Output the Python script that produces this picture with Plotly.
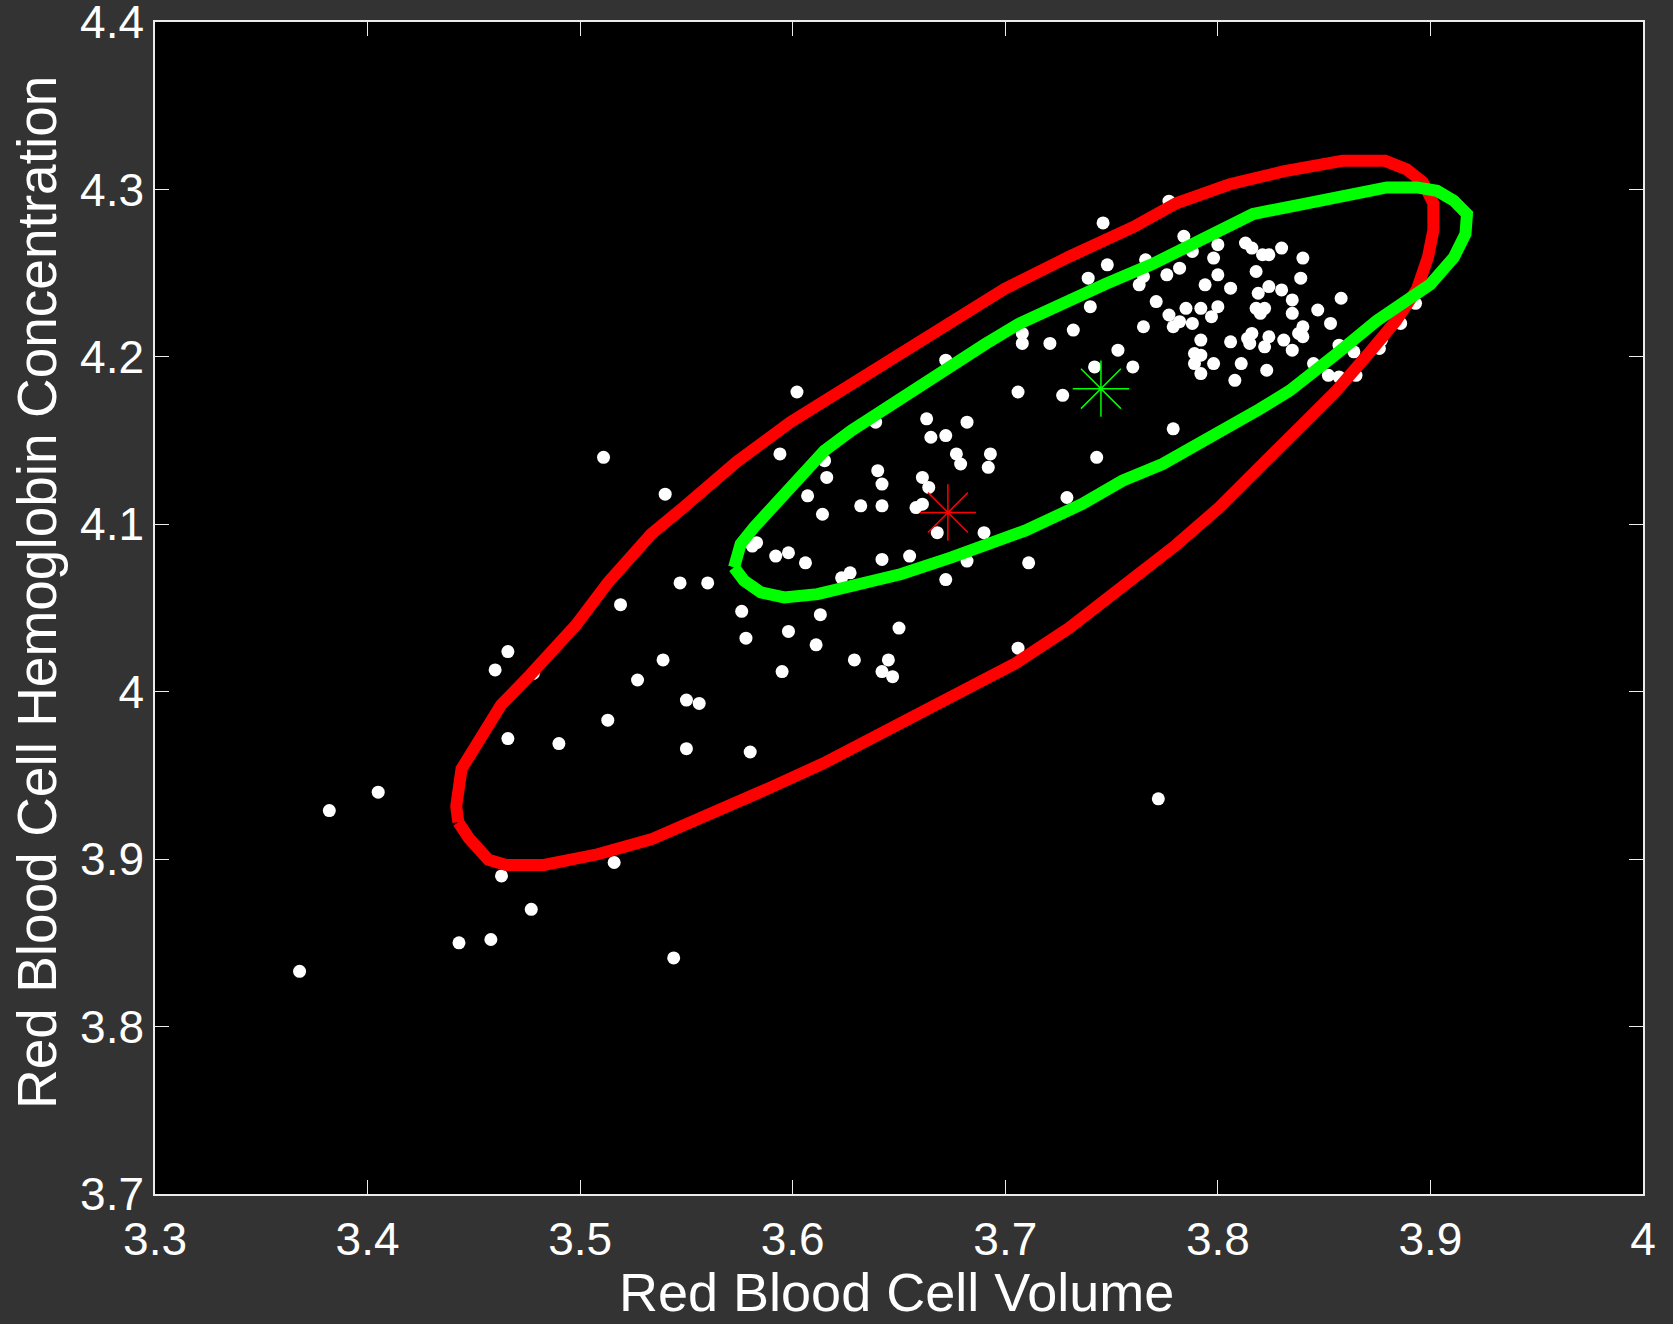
import plotly.graph_objects as go

# ---------------- data ----------------
pts_x = [3.777, 3.746, 3.784, 3.788, 3.800, 3.798, 3.766, 3.748, 3.782, 3.776,
         3.763, 3.765, 3.794, 3.800, 3.806, 3.813, 3.816, 3.821, 3.824, 3.830,
         3.840, 3.818, 3.839, 3.824, 3.830, 3.819, 3.835, 3.835, 3.818, 3.822,
         3.820, 3.847, 3.858, 3.853, 3.840, 3.838, 3.840, 3.831, 3.835, 3.816,
         3.814, 3.824, 3.822, 3.806, 3.815, 3.811, 3.823, 3.808, 3.798, 3.792,
         3.789, 3.792, 3.789, 3.792, 3.771, 3.777, 3.785, 3.792, 3.800, 3.797,
         3.782, 3.779, 3.788, 3.765, 3.753, 3.760, 3.857, 3.845, 3.852, 3.865,
         3.877, 3.876, 3.886, 3.893, 3.864, 3.857,
         3.739, 3.740, 3.732, 3.721, 3.708, 3.708, 3.672, 3.742, 3.706, 3.727,
         3.663, 3.682, 3.665, 3.672, 3.639,
         3.602, 3.594, 3.677, 3.679, 3.693, 3.692, 3.615, 3.616, 3.607, 3.614,
         3.640, 3.642, 3.632, 3.642, 3.661, 3.664, 3.658, 3.661, 3.668, 3.690,
         3.583, 3.581, 3.592, 3.598, 3.606, 3.642, 3.655, 3.682, 3.672, 3.627,
         3.623, 3.560, 3.576, 3.613, 3.578, 3.598, 3.650, 3.611, 3.629, 3.645,
         3.595, 3.642, 3.647,
         3.511, 3.540, 3.547, 3.519, 3.466, 3.460, 3.478, 3.539, 3.527, 3.550,
         3.556, 3.513, 3.466, 3.490, 3.550, 3.580,
         3.405, 3.382, 3.368, 3.463, 3.516, 3.477, 3.443, 3.458, 3.544,
         3.779, 3.743, 3.729, 3.711, 3.706, 3.772]
pts_y = [4.293, 4.280, 4.272, 4.263, 4.267, 4.259, 4.258, 4.255, 4.253, 4.249,
         4.243, 4.248, 4.243, 4.249, 4.241, 4.268, 4.265, 4.261, 4.261, 4.265,
         4.259, 4.251, 4.247, 4.242, 4.240, 4.238, 4.234, 4.226, 4.229, 4.229,
         4.226, 4.228, 4.235, 4.220, 4.218, 4.214, 4.212, 4.210, 4.204, 4.214,
         4.211, 4.212, 4.206, 4.209, 4.208, 4.196, 4.192, 4.186, 4.196, 4.210,
         4.202, 4.201, 4.196, 4.190, 4.233, 4.225, 4.229, 4.229, 4.230, 4.224,
         4.221, 4.218, 4.220, 4.218, 4.204, 4.194, 4.207, 4.196, 4.189, 4.189,
         4.210, 4.205, 4.220, 4.232, 4.203, 4.188,
         4.247, 4.230, 4.216, 4.208, 4.208, 4.214, 4.198, 4.194, 4.179, 4.177,
         4.163, 4.161, 4.152, 4.153, 4.161,
         4.179, 4.142, 4.142, 4.136, 4.142, 4.134, 4.138, 4.128, 4.117, 4.106,
         4.132, 4.124, 4.111, 4.111, 4.128, 4.122, 4.110, 4.112, 4.095, 4.095,
         4.089, 4.087, 4.081, 4.083, 4.077, 4.079, 4.081, 4.078, 4.067, 4.071,
         4.068, 4.065, 4.048, 4.046, 4.032, 4.036, 4.038, 4.028, 4.019, 4.019,
         4.012, 4.012, 4.009,
         4.140, 4.118, 4.065, 4.052, 4.024, 4.013, 4.011, 4.019, 4.007, 3.995,
         3.993, 3.983, 3.972, 3.969, 3.966, 3.964,
         3.940, 3.929, 3.833, 3.890, 3.898, 3.870, 3.850, 3.852, 3.841,
         4.157, 4.140, 4.116, 4.077, 4.026, 3.936]

red_x = [3.4427, 3.4417, 3.4442, 3.4492, 3.4568, 3.4628, 3.4764, 3.4981, 3.5132,
         3.5334, 3.5485, 3.5737, 3.5989, 3.6292, 3.6544, 3.6746, 3.6998, 3.7300,
         3.7603, 3.7804, 3.8056, 3.8308, 3.8586, 3.8787, 3.8888, 3.8964, 3.9014,
         3.9014, 3.8989, 3.8938, 3.8838, 3.8712, 3.8560, 3.8409, 3.8207, 3.8006,
         3.7804, 3.7552, 3.7300, 3.7048, 3.6746, 3.6443, 3.6141, 3.5889, 3.5586,
         3.5334, 3.5082, 3.4830, 3.4653, 3.4568, 3.4477, 3.4427]
red_y = [3.9220, 3.9316, 3.9539, 3.9634, 3.9794, 3.9921, 4.0099, 4.0399, 4.0654,
         4.0941, 4.1100, 4.1374, 4.1610, 4.1852, 4.2056, 4.2215, 4.2407, 4.2598,
         4.2776, 4.2917, 4.3031, 4.3108, 4.3171, 4.3171, 4.3120, 4.3044, 4.2917,
         4.2757, 4.2598, 4.2407, 4.2215, 4.2024, 4.1801, 4.1610, 4.1355, 4.1100,
         4.0877, 4.0622, 4.0380, 4.0170, 3.9972, 3.9762, 3.9570, 3.9424, 3.9252,
         3.9118, 3.9029, 3.8965, 3.8965, 3.8997, 3.9124, 3.9220]

green_x = [3.5724, 3.5755, 3.5818, 3.5928, 3.6039, 3.6149, 3.6275, 3.6464, 3.6668,
           3.6905, 3.7062, 3.7251, 3.7471, 3.7692, 3.7976, 3.8165, 3.8401, 3.8558,
           3.8795, 3.8936, 3.9031, 3.9110, 3.9172, 3.9165, 3.9110, 3.8999, 3.8873,
           3.8747, 3.8558, 3.8338, 3.8196, 3.7960, 3.7740, 3.7551, 3.7362, 3.7093,
           3.6889, 3.6747, 3.6511, 3.6275, 3.6117, 3.5960, 3.5850, 3.5771, 3.5724]
green_y = [4.0743, 4.0882, 4.0982, 4.1141, 4.1300, 4.1440, 4.1559, 4.1718, 4.1897,
           4.2076, 4.2196, 4.2315, 4.2435, 4.2554, 4.2734, 4.2853, 4.2913, 4.2953,
           4.3012, 4.3012, 4.2992, 4.2933, 4.2853, 4.2734, 4.2594, 4.2432, 4.2317,
           4.2215, 4.2018, 4.1798, 4.1688, 4.1509, 4.1360, 4.1260, 4.1121, 4.0962,
           4.0862, 4.0802, 4.0703, 4.0633, 4.0583, 4.0563, 4.0593, 4.0663, 4.0743]

red_center_x = [3.673]
red_center_y = [4.107]
green_center_x = [3.745]
green_center_y = [4.181]

x_ticks = [3.3, 3.4, 3.5, 3.6, 3.7, 3.8, 3.9, 4.0]
x_tick_text = ["3.3", "3.4", "3.5", "3.6", "3.7", "3.8", "3.9", "4"]
y_ticks = [3.7, 3.8, 3.9, 4.0, 4.1, 4.2, 4.3, 4.4]
y_tick_text = ["3.7", "3.8", "3.9", "4", "4.1", "4.2", "4.3", "4.4"]

x_title = "Red Blood Cell Volume"
y_title = "Red Blood Cell Hemoglobin Concentration"

# ---------------- figure ----------------
FONT = "Liberation Sans, Arial, Helvetica, sans-serif"
AXC = "#ececec"

fig = go.Figure()
fig.add_trace(go.Scatter(x=pts_x, y=pts_y, mode="markers",
                         marker=dict(size=13, color="white", line=dict(width=0)),
                         hoverinfo="x+y", showlegend=False))
fig.add_trace(go.Scatter(x=red_x, y=red_y, mode="lines",
                         line=dict(color="#ff0000", width=12),
                         showlegend=False))
fig.add_trace(go.Scatter(x=green_x, y=green_y, mode="lines",
                         line=dict(color="#00ff00", width=12),
                         showlegend=False))
fig.add_trace(go.Scatter(x=red_center_x, y=red_center_y, mode="markers",
                         marker=dict(symbol="asterisk-open", size=47, color="#ff0000",
                                     line=dict(color="#ff0000", width=1.5)),
                         showlegend=False))
fig.add_trace(go.Scatter(x=green_center_x, y=green_center_y, mode="markers",
                         marker=dict(symbol="asterisk-open", size=47, color="#00ff00",
                                     line=dict(color="#00ff00", width=1.5)),
                         showlegend=False))

axis_common = dict(
    ticks="inside", ticklen=14, tickwidth=1, tickcolor=AXC,
    showline=True, linecolor=AXC, linewidth=1.5, mirror="ticks",
    showgrid=False, zeroline=False,
    tickfont=dict(family=FONT, size=46, color="white"),
    ticklabeloverflow="allow",
    automargin=False,
)

fig.update_layout(
    width=1673, height=1324,
    margin=dict(l=155, r=30, t=22, b=130),
    paper_bgcolor="#333333",
    plot_bgcolor="black",
    font=dict(family=FONT, color="white"),
    xaxis=dict(range=[3.29999, 4.00001], tickvals=x_ticks, ticktext=x_tick_text,
               ticklabelstandoff=4, **axis_common),
    yaxis=dict(range=[3.69999, 4.40001], tickvals=y_ticks, ticktext=y_tick_text,
               **axis_common),
    annotations=[
        dict(text=x_title, xref="paper", yref="paper", x=0.498, y=-0.084,
             xanchor="center", yanchor="middle", showarrow=False,
             font=dict(family=FONT, size=54, color="white")),
        dict(text=y_title, xref="paper", yref="paper", x=-0.0793, y=0.5128,
             xanchor="center", yanchor="middle", textangle=-90, showarrow=False,
             font=dict(family=FONT, size=55, color="white")),
    ],
)

fig.write_html("out.html")
